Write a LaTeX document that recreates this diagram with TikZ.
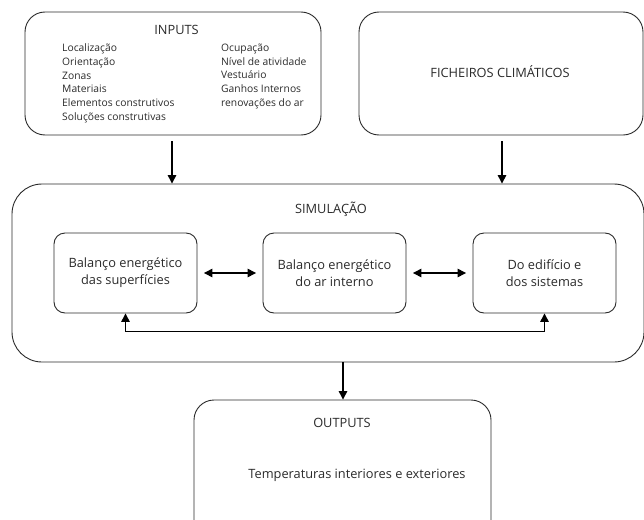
\documentclass[tikz,border=0pt]{standalone}
\usepackage{fontspec}
\setmainfont{Open Sans}
\usetikzlibrary{arrows.meta}
\definecolor{ink}{HTML}{2A2A2A}
\begin{document}
\begin{tikzpicture}[x=1pt,y=-1pt,
  box/.style={draw=ink,line width=0.9pt,rounded corners=20pt,inner sep=0pt},
  ibox/.style={draw=ink,line width=0.9pt,rounded corners=11pt,minimum width=143pt,minimum height=80pt,align=center,font=\fontsize{12.8}{17}\selectfont,text=ink,inner sep=0pt},
  lbl/.style={font=\fontsize{12.8}{15}\selectfont,inner sep=0pt,text=ink,anchor=base},
  lst/.style={font=\fontsize{10.3}{13.8}\selectfont,inner sep=0pt,align=left,anchor=north west,text=ink},
  arr/.style={-{Triangle[length=8.5pt,width=8.5pt]},line width=1.3pt},
  darr/.style={{Triangle[length=8.5pt,width=8.5pt]}-{Triangle[length=8.5pt,width=8.5pt]},line width=1.3pt}]
\useasboundingbox (0,0) rectangle (644,519);
\clip (0,0) rectangle (644,519);
% boxes
\node[box,minimum width=296pt,minimum height=123pt] (inputs) at (173,73.5) {};
\node[box,minimum width=284pt,minimum height=123pt] (fich) at (501,73.5) {};
\node[box,rounded corners=30pt,minimum width=632pt,minimum height=178pt] (sim) at (328,273) {};
\node[box,minimum width=297pt,minimum height=140pt] (out) at (342.5,470) {};
% inner boxes
\node[ibox] (b1) at (125.5,273) {Balanço energético\\das superfícies};
\node[ibox] (b2) at (334.5,273) {Balanço energético\\do ar interno};
\node[ibox] (b3) at (544.5,273) {Do edifício e\\dos sistemas};
% texts
\node[lbl] (tin) at (176.5,35) {INPUTS};
\node[lst] (l1) at (62,43.5) {Localização\\Orientação\\Zonas\\Materiais\\Elementos construtivos\\Soluções construtivas};
\node[lst] (l2) at (221,43.5) {Ocupação\\Nível de atividade\\Vestuário\\Ganhos Internos\\renovações do ar};
\node[lbl] (tf) at (500,77) {FICHEIROS CLIMÁTICOS};
\node[lbl] (ts) at (331,213) {SIMULAÇÃO};
\node[lbl] (to) at (342,427) {OUTPUTS};
\node[lbl] (tt) at (357,478) {Temperaturas interiores e exteriores};
% connectors
\coordinate (a1) at ([xshift=-1pt,yshift=-6pt]inputs.south);
\draw[arr] (a1) -- (a1 |- sim.north);
\coordinate (a2) at ([xshift=1pt,yshift=-6pt]fich.south);
\draw[arr] (a2) -- (a2 |- sim.north);
\coordinate (a3) at ([xshift=15pt]sim.south);
\draw[arr] (a3) -- (a3 |- out.north);
\draw[darr,shorten <=6.5pt,shorten >=6.5pt] (b1.east) -- (b2.west);
\draw[darr,shorten <=6.5pt,shorten >=6.5pt] (b2.east) -- (b3.west);
\draw[darr] (b1.south) -- ++(0,18) -| (b3.south);
\end{tikzpicture}
\end{document}
